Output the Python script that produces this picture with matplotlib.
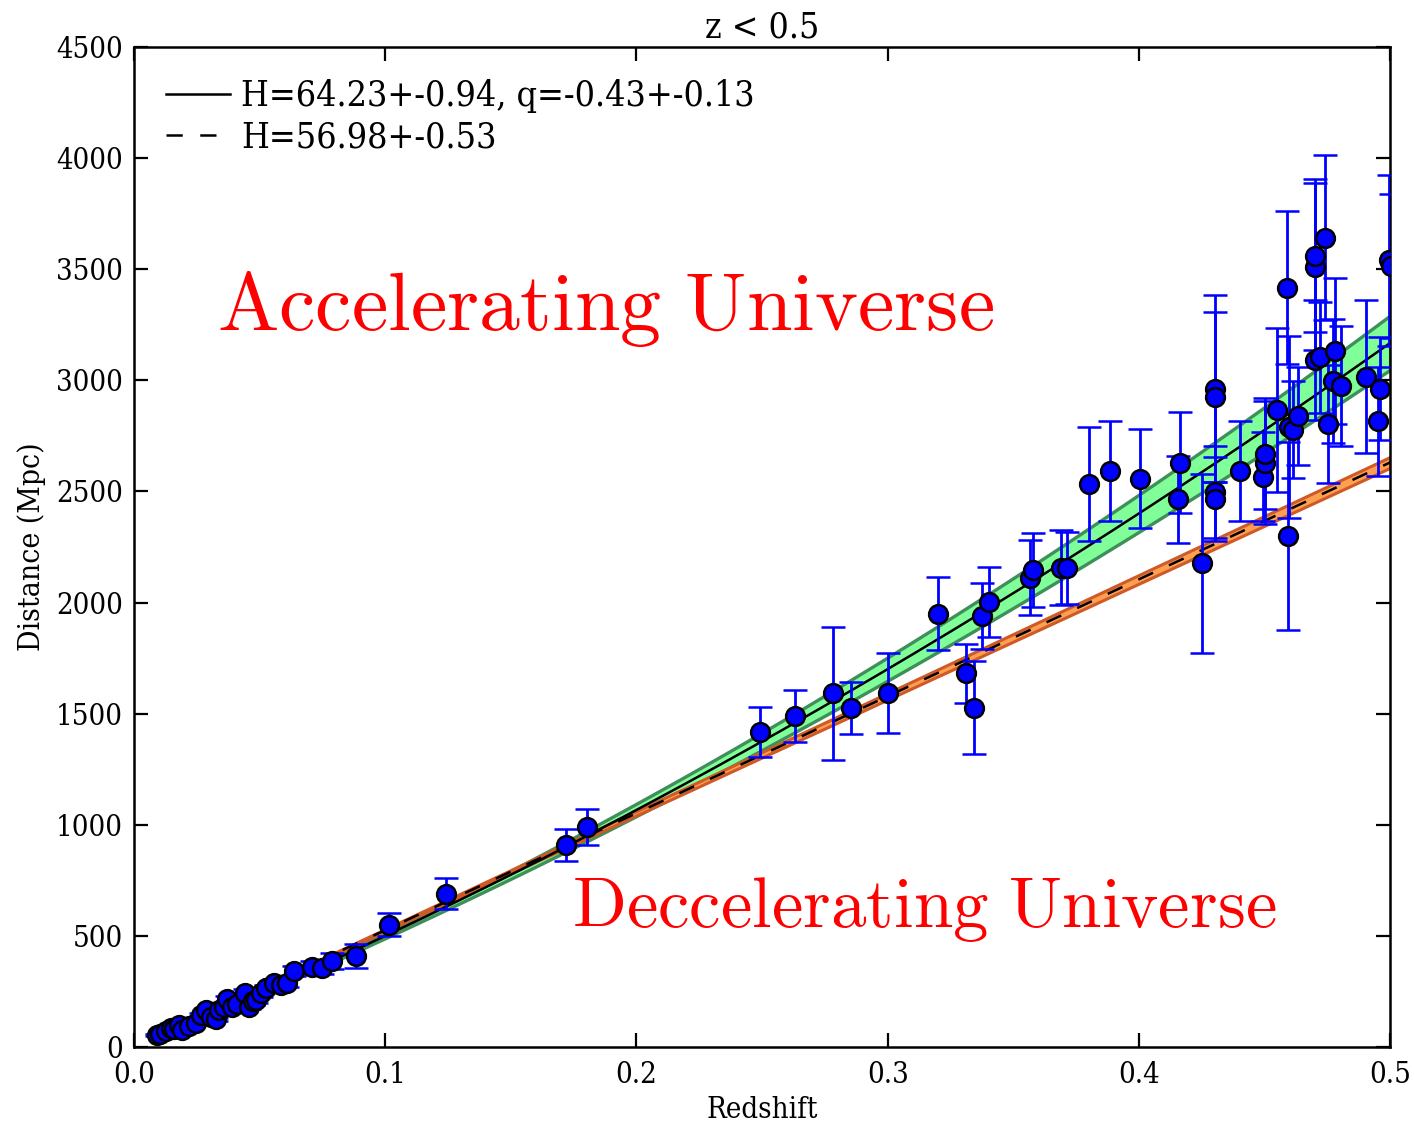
import numpy as np
import matplotlib
matplotlib.use('Agg')
import matplotlib.pyplot as plt

plt.rcParams['font.family'] = 'DejaVu Serif'
plt.rcParams['font.stretch'] = 'condensed'
plt.rcParams['mathtext.fontset'] = 'cm'

# supernova sample: redshift, distance (Mpc), 1-sigma error
z = [0.0093, 0.0105, 0.0126, 0.0146, 0.0160, 0.0179, 0.0192, 0.0219,
     0.0245, 0.0265, 0.0285, 0.0305, 0.0325, 0.0338, 0.0358, 0.0372,
     0.0391, 0.0410, 0.0440, 0.0458, 0.0472, 0.0484, 0.0504, 0.0524,
     0.0557, 0.0584, 0.0610, 0.0637, 0.0710, 0.0750, 0.0789, 0.0884,
     0.1016, 0.1242, 0.1720, 0.1803,
     0.2492, 0.2631, 0.2781, 0.2853, 0.3000, 0.3202, 0.3312, 0.3344,
     0.3374, 0.3405, 0.3567, 0.3580, 0.3690, 0.3713, 0.3802, 0.3883,
     0.4005, 0.4155, 0.4164, 0.4252, 0.4301, 0.4301, 0.4301, 0.4301,
     0.4403, 0.4493, 0.4502, 0.4502, 0.4551, 0.4591, 0.4595, 0.4597,
     0.4613, 0.4633, 0.4701, 0.4701, 0.4701, 0.4721, 0.4741, 0.4754,
     0.4772, 0.4781, 0.4804, 0.4904, 0.4953, 0.4960, 0.4995, 0.5005]
dist = [54, 60, 74, 84, 80, 99, 76, 94,
        110, 144, 166, 134, 124, 166, 182, 215,
        182, 195, 245, 182, 205, 212, 242, 264,
        287, 279, 290, 343, 360, 354, 388, 411,
        551, 690, 909, 990,
        1418, 1490, 1591, 1525, 1593, 1950, 1681, 1527,
        1940, 2004, 2112, 2146, 2157, 2154, 2534, 2592,
        2557, 2464, 2629, 2177, 2962, 2924, 2499, 2466,
        2592, 2567, 2630, 2669, 2868, 3417, 2300, 2791,
        2777, 2840, 3092, 3512, 3560, 3104, 3642, 2804,
        2997, 3132, 2975, 3016, 2816, 2962, 3540, 3515]
err = [4, 4, 5, 5, 5, 6, 5, 6,
       7, 9, 10, 9, 8, 10, 11, 13,
       12, 12, 15, 12, 14, 14, 16, 17,
       19, 18, 19, 22, 25, 25, 35, 54,
       51, 71, 72, 82,
       112, 116, 300, 118, 181, 163, 131, 210,
       150, 157, 170, 165, 168, 162, 256, 225,
       223, 195, 227, 403, 420, 382, 207, 190,
       225, 202, 278, 250, 369, 345, 424, 409,
       218, 222, 270, 377, 344, 250, 372, 267,
       280, 330, 270, 345, 245, 232, 385, 325]

# fitted parameters
H1, dH1 = 64.23, 0.94
q1, dq1 = -0.43, 0.13
H2, dH2 = 56.98, 0.53
c_kms = 299792.458


def dist_q(zz, H, q):
    """second order Hubble law with deceleration parameter"""
    return c_kms * zz / H * (1 + 0.5 * (1 - q) * zz)


def dist_lin(zz, H):
    """linear Hubble law"""
    return c_kms * zz / H


zm = np.linspace(0.01, 0.5, 300)

fig = plt.figure(figsize=(14.14, 11.25), dpi=100)
ax = fig.add_axes([0.0948, 0.0693, 0.8883, 0.8889])

# uncertainty bands
ax.fill_between(zm, dist_q(zm, H1 + dH1, q1 + dq1), dist_q(zm, H1 - dH1, q1 - dq1),
                facecolor='#80ff99', edgecolor='#3f8f5a', linewidth=2.4, zorder=1)
ax.fill_between(zm, dist_lin(zm, H2 + dH2), dist_lin(zm, H2 - dH2),
                facecolor='#ffa050', edgecolor='#cf5a28', linewidth=2.2, zorder=1)

ax.plot(zm, dist_q(zm, H1, q1), c='k', lw=1.8, zorder=2,
        label='H=%.2f+-%.2f, q=%.2f+-%.2f' % (H1, dH1, q1, dq1))
ax.plot(zm, dist_lin(zm, H2), c='k', lw=1.8, ls='--', dashes=(6.5, 7), zorder=2,
        label='H=%.2f+-%.2f' % (H2, dH2))

ax.errorbar(z, dist, yerr=err, fmt='o', color='b', ecolor='b',
            elinewidth=2.0, capsize=8.5, capthick=2.0,
            ms=13.5, mfc='b', mec='k', mew=1.8, zorder=3)

ax.text(0.066, 0.717, r'$\mathrm{Accelerating\ Universe}$', color='r',
        fontsize=59, transform=ax.transAxes, va='baseline', ha='left')
ax.text(0.349, 0.120, r'$\mathrm{Deccelerating\ Universe}$', color='r',
        fontsize=51, transform=ax.transAxes, va='baseline', ha='left')

ax.set_xlim(0, 0.5)
ax.set_ylim(0, 4500)
ax.set_xticks([0.0, 0.1, 0.2, 0.3, 0.4, 0.5])
ax.set_yticks(np.arange(0, 4501, 500))
ax.tick_params(direction='in', length=10, width=1.6, labelsize=21,
               top=True, right=True)
ax.tick_params(axis='x', pad=10)
ax.tick_params(axis='y', pad=8)
for sp in ax.spines.values():
    sp.set_linewidth(1.8)

ax.set_xlabel('Redshift', fontsize=21, labelpad=5)
ax.set_ylabel('Distance (Mpc)', fontsize=21.5, labelpad=7)
ax.set_title('z < 0.5', fontsize=25.5, pad=7)
ax.legend(loc='upper left', frameon=False, fontsize=25.7, handlelength=1.8,
          handletextpad=0.3, borderaxespad=0.5, labelspacing=0.2)

plt.savefig('out.png', dpi=100)
